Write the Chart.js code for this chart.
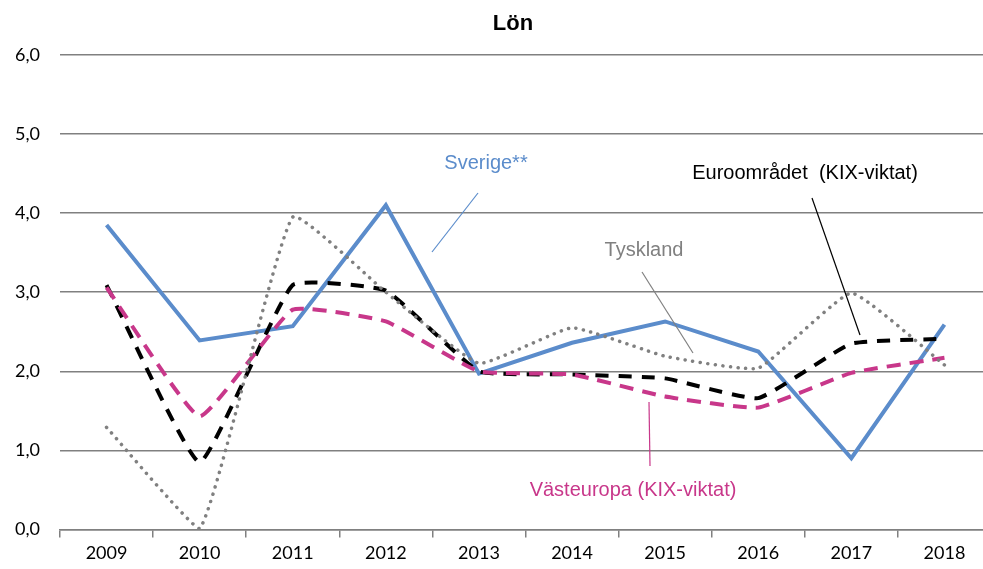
<!DOCTYPE html>
<html><head><meta charset="utf-8">
<script src="https://cdn.jsdelivr.net/npm/chart.js@4/dist/chart.umd.min.js"></script>
<style>html,body{margin:0;padding:0;background:#fff;overflow:hidden}#wrap{width:983px;height:569px;position:relative;overflow:hidden}</style>
</head><body><div id="wrap"><canvas id="c" width="995" height="569"></canvas></div>
<script>
const years = ["2009","2010","2011","2012","2013","2014","2015","2016","2017","2018"];
const sverige = [3.85, 2.39, 2.57, 4.10, 1.97, 2.36, 2.63, 2.25, 0.90, 2.59];
const euro = [3.09, 0.85, 3.09, 3.02, 2.00, 1.96, 1.91, 1.66, 2.35, 2.41];
const vasteuropa = [3.06, 1.43, 2.78, 2.63, 2.00, 1.96, 1.68, 1.54, 1.98, 2.17];
const tyskland = [1.29, 0.01, 3.95, 3.00, 2.10, 2.55, 2.19, 2.04, 2.99, 2.08];
const title = "Lön";
const labels = [
  {text:"Sverige**", color:"#5B8CCB", x:486, y:163, lx1:478, ly1:193, lx2:432, ly2:252},
  {text:"Euroområdet  (KIX-viktat)", color:"#000000", x:805, y:173, lx1:812, ly1:198, lx2:860, ly2:335},
  {text:"Tyskland", color:"#808080", x:644, y:250, lx1:642, ly1:272, lx2:693, ly2:353},
  {text:"Västeuropa (KIX-viktat)", color:"#C8378A", x:633, y:490, lx1:649, ly1:402, lx2:650, ly2:466}
];
const annot = {
  id:'annot',
  afterDatasetsDraw(chart){
    const ctx = chart.ctx;
    ctx.save();
    ctx.textAlign = 'center'; ctx.textBaseline = 'middle';
    ctx.fillStyle = '#000';
    ctx.font = 'bold 22px "Liberation Sans", Arial, sans-serif';
    ctx.fillText(title, 513, 24);
    ctx.font = '20px "Liberation Sans", Arial, sans-serif';
    labels.forEach(l=>{
      ctx.fillStyle = l.color; ctx.fillText(l.text, l.x, l.y);
      ctx.strokeStyle = l.color; ctx.lineWidth = 1.2;
      ctx.beginPath(); ctx.moveTo(l.lx1,l.ly1); ctx.lineTo(l.lx2,l.ly2); ctx.stroke();
    });
    ctx.restore();
  }
};
const tickFont = {family:'Lato, "Open Sans", sans-serif', size:18};
new Chart(document.getElementById('c'), {
  type:'line',
  data:{labels:years, datasets:[
    {label:'Tyskland', data:tyskland, borderColor:'#808080', borderWidth:3.5, borderDash:[0.1,7.5], borderCapStyle:'round', tension:0.12, pointRadius:0, fill:false},
    {label:'Västeuropa', data:vasteuropa, borderColor:'#C8378A', borderWidth:4, borderDash:[14,9], tension:0.12, pointRadius:0, fill:false},
    {label:'Euroområdet', data:euro, borderColor:'#000000', borderWidth:4, borderDash:[13,10], tension:0.12, pointRadius:0, fill:false},
    {label:'Sverige', data:sverige, borderColor:'#5B8CCB', borderWidth:4, tension:0, pointRadius:0, fill:false}
  ]},
  options:{
    responsive:false, animation:false,
    layout:{padding:{top:55,right:4,bottom:0,left:4}},
    plugins:{legend:{display:false}, tooltip:{enabled:false}, title:{display:false}},
    scales:{
      x:{offset:true,
        grid:{offset:true, drawOnChartArea:false, drawTicks:true, tickLength:8, color:'#808080', lineWidth:1.5},
        border:{display:true, color:'#808080', width:1.5},
        ticks:{color:'#000', font:tickFont, padding:5, maxRotation:0}},
      y:{min:0, max:6,
        afterFit:s=>{s.width=56;},
        grid:{color:'#808080', lineWidth:1.5, drawTicks:false},
        border:{display:false},
        ticks:{stepSize:1, color:'#000', padding:20, font:tickFont,
          callback:v=>v.toFixed(1).replace('.',',')}}
    }
  },
  plugins:[annot]
});
</script></body></html>
